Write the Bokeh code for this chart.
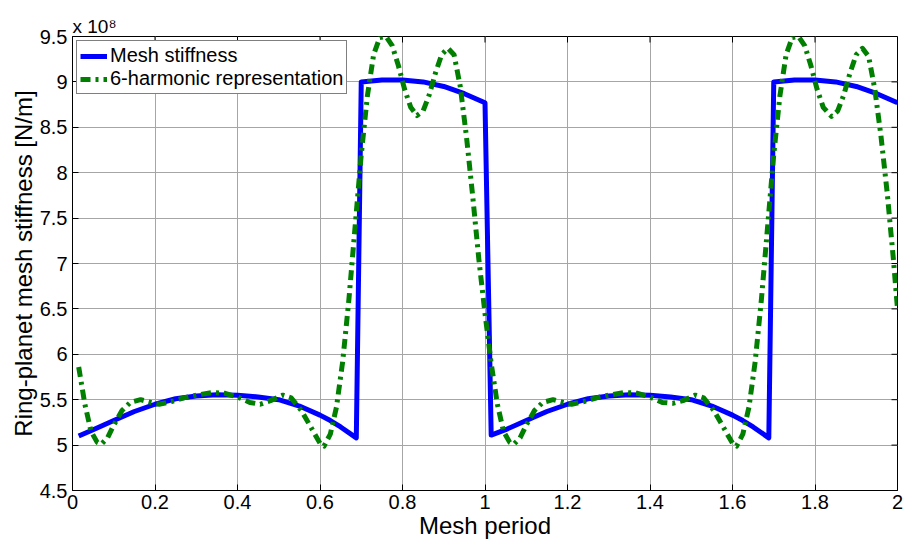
import math

from bokeh.plotting import figure
from bokeh.models import Range1d, FixedTicker, Legend, LegendItem
from bokeh.embed import file_html
from bokeh.resources import INLINE

# Ring-planet mesh stiffness over two mesh periods (values in 10^8 N/m)
mesh_x = [0.015, 0.05, 0.10, 0.15, 0.20, 0.25, 0.30, 0.35, 0.40, 0.45, 0.50,
          0.55, 0.60, 0.625, 0.65, 0.688, 0.700, 0.75, 0.80, 0.85, 0.90, 0.95,
          1.00,
          1.015, 1.05, 1.10, 1.15, 1.20, 1.25, 1.30, 1.35, 1.40, 1.45, 1.50,
          1.55, 1.60, 1.625, 1.65, 1.688, 1.700, 1.75, 1.80, 1.85, 1.90, 1.95,
          2.00]
mesh_k = [5.10, 5.17, 5.27, 5.37, 5.45, 5.51, 5.54, 5.555, 5.55, 5.53, 5.50,
          5.43, 5.33, 5.27, 5.20, 5.08, 9.00, 9.02, 9.02, 9.00, 8.95, 8.87,
          8.77,
          5.11, 5.17, 5.27, 5.37, 5.45, 5.51, 5.54, 5.555, 5.55, 5.53, 5.50,
          5.43, 5.33, 5.27, 5.20, 5.08, 9.00, 9.02, 9.02, 9.00, 8.95, 8.87,
          8.77]

# Six-harmonic Fourier representation of the same stiffness
harm_x = [0.015, 0.03, 0.045, 0.06, 0.07, 0.085, 0.10, 0.12, 0.14, 0.165,
          0.19, 0.21, 0.24, 0.27, 0.30, 0.34, 0.37, 0.40, 0.43, 0.455, 0.48,
          0.51, 0.53, 0.555, 0.58, 0.60, 0.61, 0.625, 0.64, 0.655, 0.67, 0.685,
          0.70, 0.715, 0.73, 0.745, 0.76, 0.775, 0.79, 0.805, 0.82, 0.835,
          0.85, 0.865, 0.88, 0.895, 0.91, 0.925, 0.94, 0.955, 0.97, 0.985,
          1.00,
          1.015, 1.03, 1.045, 1.06, 1.07, 1.085, 1.10, 1.12, 1.14, 1.165,
          1.19, 1.21, 1.24, 1.27, 1.30, 1.34, 1.37, 1.40, 1.43, 1.455, 1.48,
          1.51, 1.53, 1.555, 1.58, 1.60, 1.61, 1.625, 1.64, 1.655, 1.67, 1.685,
          1.70, 1.715, 1.73, 1.745, 1.76, 1.775, 1.79, 1.805, 1.82, 1.84,
          1.855, 1.87, 1.885, 1.90, 1.915, 1.93, 1.945, 1.96, 1.975, 1.99,
          2.00]
harm_k = [5.86, 5.45, 5.15, 5.03, 5.01, 5.08, 5.22, 5.38, 5.47, 5.50,
          5.47, 5.45, 5.48, 5.52, 5.55, 5.58, 5.57, 5.53, 5.47, 5.45, 5.49,
          5.55, 5.52, 5.38, 5.18, 5.02, 4.99, 5.12, 5.42, 5.92, 6.60, 7.40,
          8.20, 8.85, 9.30, 9.49, 9.50, 9.40, 9.18, 8.92, 8.72, 8.63,
          8.68, 8.86, 9.10, 9.30, 9.37, 9.30, 8.95, 8.40, 7.75, 7.05,
          6.45,
          5.90, 5.45, 5.15, 5.03, 5.01, 5.08, 5.22, 5.38, 5.47, 5.50,
          5.47, 5.45, 5.48, 5.52, 5.55, 5.58, 5.57, 5.53, 5.47, 5.46, 5.49,
          5.55, 5.52, 5.38, 5.18, 5.02, 4.99, 5.12, 5.42, 5.92, 6.60, 7.40,
          8.20, 8.85, 9.30, 9.49, 9.50, 9.40, 9.18, 8.92, 8.72, 8.62,
          8.68, 8.86, 9.10, 9.30, 9.37, 9.28, 8.92, 8.40, 7.78, 7.05,
          6.50]

x_ticks = [0, 0.2, 0.4, 0.6, 0.8, 1.0, 1.2, 1.4, 1.6, 1.8, 2.0]
x_tick_labels = ["0", "0.2", "0.4", "0.6", "0.8", "1", "1.2", "1.4", "1.6",
                 "1.8", "2"]
y_ticks = [4.5, 5.0, 5.5, 6.0, 6.5, 7.0, 7.5, 8.0, 8.5, 9.0, 9.5]
y_tick_labels = ["4.5", "5", "5.5", "6", "6.5", "7", "7.5", "8", "8.5", "9",
                 "9.5"]

X_MIN, X_MAX = 0, 2
Y_MIN, Y_MAX = 4.5, 9.5
FONT = "Liberation Sans"

p = figure(width=905, height=542, output_backend="svg", toolbar_location=None,
           x_range=Range1d(X_MIN, X_MAX), y_range=Range1d(Y_MIN, Y_MAX),
           min_border_left=72, min_border_right=8, min_border_top=36,
           min_border_bottom=52)
p.background_fill_color = "white"
p.border_fill_color = "white"
p.outline_line_color = "black"
p.outline_line_width = 1

# exponent multiplier of the y axis, above the top-left corner of the box
p.title.text = "x 10\u2078"
p.title.align = "left"
p.title.vertical_align = "bottom"
p.title.text_font = FONT
p.title.text_font_size = "19px"
p.title.text_line_height = 0.7
p.title.text_font_style = "normal"
p.title.text_color = "black"
p.title.offset = 0
p.title.standoff = 0

xt = FixedTicker(ticks=x_ticks)
yt = FixedTicker(ticks=y_ticks)
xaxis = p.xaxis[0]
yaxis = p.yaxis[0]


def style_axis(ax, ticker, labels):
    ax.ticker = ticker
    ax.major_label_overrides = {t: l for t, l in zip(ticker.ticks, labels)}
    ax.axis_line_color = "black"
    ax.axis_line_width = 1
    ax.major_tick_line_color = "black"
    ax.major_tick_in = 6
    ax.major_tick_out = 0
    ax.minor_tick_line_color = None
    ax.major_label_text_font = FONT
    ax.major_label_text_color = "black"
    ax.major_label_text_font_size = "20px"
    ax.axis_label_text_font = FONT
    ax.axis_label_text_font_size = "24px"
    ax.axis_label_text_font_style = "normal"
    ax.axis_label_text_color = "black"
    ax.axis_label_standoff = 0


style_axis(xaxis, xt, x_tick_labels)
style_axis(yaxis, yt, y_tick_labels)
xaxis.major_label_standoff = 4
yaxis.major_label_standoff = 5
xaxis.axis_label = "Mesh period"
yaxis.axis_label = "Ring-planet mesh stiffness [N/m]"

p.xgrid.ticker = xt
p.ygrid.ticker = yt
for g in (p.xgrid, p.ygrid):
    g.grid_line_color = "#a6a6a6"
    g.grid_line_width = 1

# inward tick marks along the top and right edges of the box
p.ray(x=x_ticks, y=[Y_MAX] * len(x_ticks), angle=-math.pi / 2, length=6,
      length_units="screen", line_color="black", line_width=1)
p.ray(x=[X_MAX] * len(y_ticks), y=y_ticks, angle=math.pi, length=6,
      length_units="screen", line_color="black", line_width=1)

r_mesh = p.line(mesh_x, mesh_k, line_color="#0000ff", line_width=5,
                line_join="round")
r_harm = p.line(harm_x, harm_k, line_color="#007f00", line_width=5,
                line_dash="10 5 3 5", line_join="round")

legend = Legend(items=[LegendItem(label="Mesh stiffness", renderers=[r_mesh]),
                       LegendItem(label="6-harmonic representation",
                                  renderers=[r_harm])],
                location="top_left")
legend.margin = 4
legend.padding = 3
legend.spacing = 0
legend.border_line_color = "black"
legend.border_line_width = 1
legend.background_fill_color = "white"
legend.background_fill_alpha = 1
legend.label_text_font = FONT
legend.label_text_font_size = "20px"
legend.label_text_color = "black"
legend.glyph_width = 27
legend.glyph_height = 22
legend.label_height = 22
legend.label_standoff = 3
p.add_layout(legend)

open("out.html", "w").write(file_html(p, INLINE))
